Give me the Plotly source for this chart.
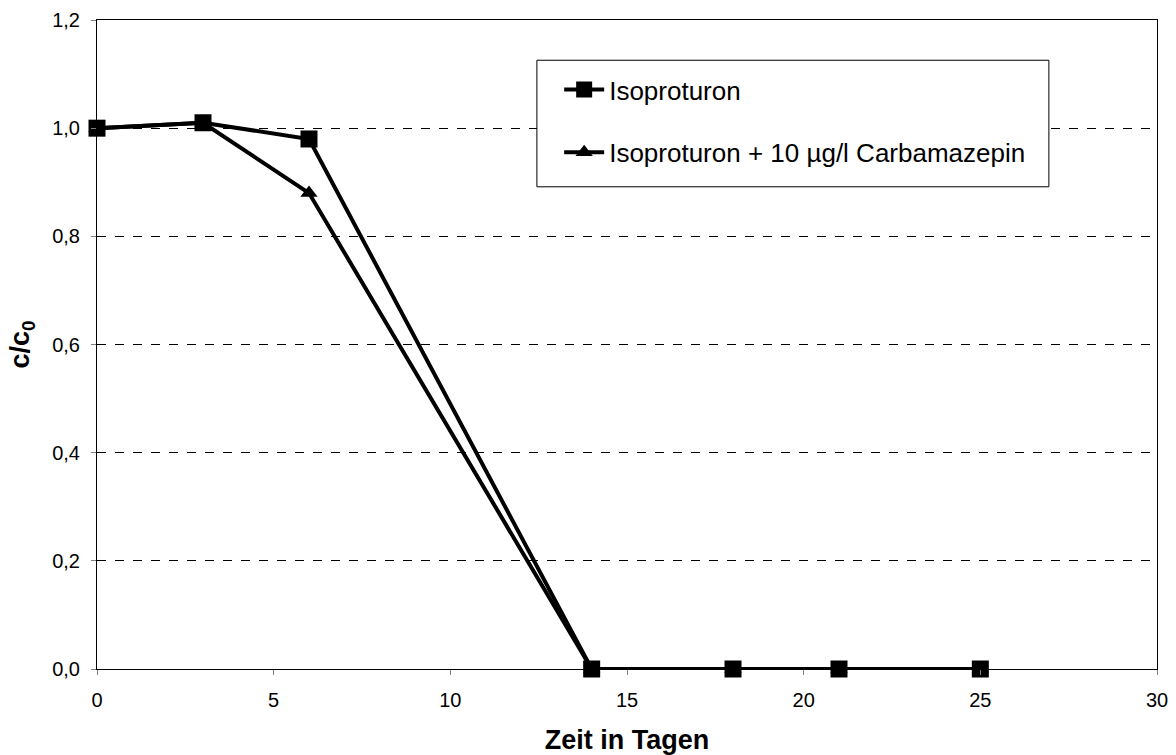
import plotly.graph_objects as go

# Abbau von Isoproturon über die Zeit
tage = [0, 3, 6, 14, 18, 21, 25]
isoproturon = [1.00, 1.01, 0.98, 0.0, 0.0, 0.0, 0.0]
isoproturon_cbz = [1.00, 1.01, 0.88, 0.0, 0.0, 0.0, 0.0]

y_ticks = [0.0, 0.2, 0.4, 0.6, 0.8, 1.0, 1.2]
x_ticks = [0, 5, 10, 15, 20, 25, 30]

FONT = "Liberation Sans, Arial, sans-serif"

fig = go.Figure()
fig.add_trace(go.Scatter(
    x=tage, y=isoproturon_cbz, mode="lines+markers",
    name="Isoproturon + 10 µg/l Carbamazepin", legendgroup="b", legendrank=2,
    line=dict(color="black", width=4),
    marker=dict(symbol="triangle-up", size=15, color="black"),
    cliponaxis=False,
))
fig.add_trace(go.Scatter(
    x=tage, y=isoproturon, mode="lines+markers",
    name="Isoproturon", legendgroup="a", legendrank=1,
    line=dict(color="black", width=4),
    marker=dict(symbol="square", size=17, color="black"),
    cliponaxis=False,
))

# Rahmen der Legende
fig.add_shape(
    type="rect", xref="paper", yref="paper",
    x0=0.415, x1=0.898, y0=0.743, y1=0.938,
    line=dict(color="black", width=1), fillcolor="white", layer="above",
)

axis_font = dict(family=FONT, size=20, color="black")
fig.update_layout(
    width=1176, height=755,
    margin=dict(l=97, r=19, t=20, b=86),
    paper_bgcolor="white", plot_bgcolor="white",
    separators=",.",
    font=dict(family=FONT, color="black"),
    legend=dict(
        x=0.436, y=0.929, xanchor="left", yanchor="top",
        borderwidth=0, bgcolor="rgba(0,0,0,0)",
        font=dict(size=26, family=FONT, color="black"),
        traceorder="grouped", tracegroupgap=26,
        itemwidth=40,
    ),
    xaxis=dict(
        range=[0, 30], tickvals=x_ticks, ticks="outside", ticklen=5,
        tickcolor="gray", tickfont=axis_font, ticklabelstandoff=8,
        showline=True, linecolor="black", linewidth=1, mirror=True,
        showgrid=False, zeroline=False, automargin=False,
        title=dict(text="<b>Zeit in Tagen</b>", font=dict(size=27, family=FONT), standoff=22),
    ),
    yaxis=dict(
        range=[0, 1.2], tickvals=y_ticks, tickformat=".1f", ticks="outside", ticklen=5,
        tickcolor="gray", tickfont=axis_font, ticklabelstandoff=7,
        showline=True, linecolor="black", linewidth=1, mirror=True,
        showgrid=True, gridcolor="black", gridwidth=1, griddash="dash",
        zeroline=False, automargin=False,
        title=dict(text="<b>c/c<sub>0</sub></b>", font=dict(size=27, family=FONT), standoff=14),
    ),
)

fig.write_html("out.html")
